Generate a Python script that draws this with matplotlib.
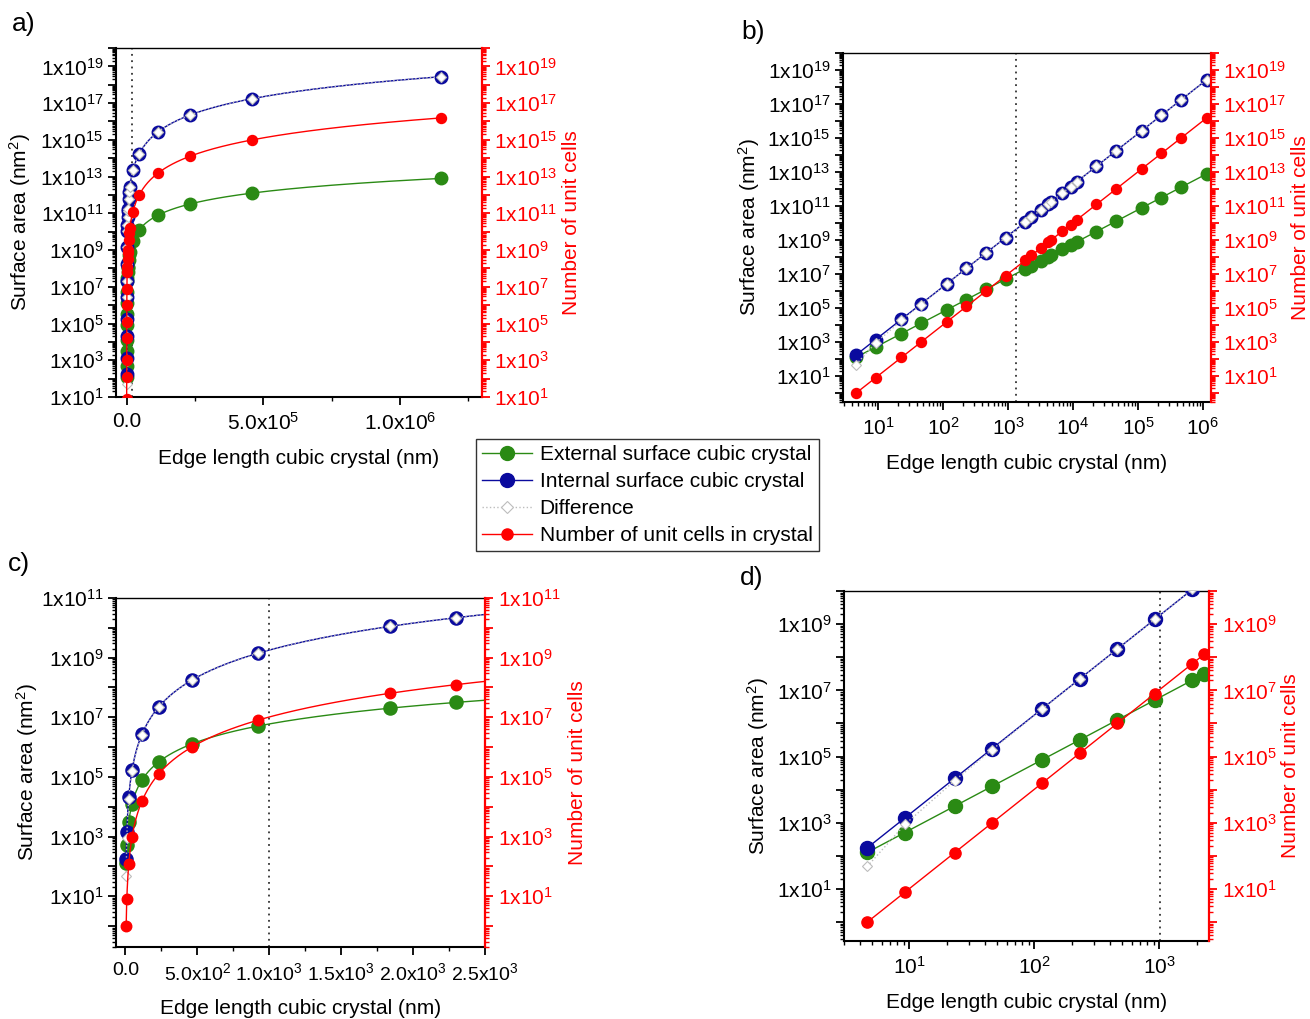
import numpy as np
import matplotlib
matplotlib.use("Agg")
import matplotlib.pyplot as plt
from matplotlib.ticker import LogLocator, FuncFormatter, FixedLocator, NullFormatter
from matplotlib.lines import Line2D

plt.rcParams['font.family'] = ['Liberation Sans', 'DejaVu Sans']
plt.rcParams['mathtext.default'] = 'regular'
plt.rcParams['mathtext.fontset'] = 'custom'
plt.rcParams['mathtext.rm'] = 'Liberation Sans'

# ---------------- data ----------------
edge_nm = [4.6, 9.2, 23, 46, 115, 230, 460, 920, 1840, 2300, 3220, 4140, 4600,
           6900, 9200, 11500, 23000, 46000, 115000, 230000, 460000, 1150000]
external_nm2 = [1.27e2, 5.08e2, 3.17e3, 1.27e4, 7.94e4, 3.17e5, 1.27e6, 5.08e6,
                2.03e7, 3.17e7, 6.22e7, 1.03e8, 1.27e8, 2.86e8, 5.08e8, 7.94e8,
                3.17e9, 1.27e10, 7.94e10, 3.17e11, 1.27e12, 7.94e12]
internal_nm2 = [1.75e2, 1.40e3, 2.19e4, 1.75e5, 2.73e6, 2.19e7, 1.75e8, 1.40e9,
                1.12e10, 2.19e10, 6.00e10, 1.28e11, 1.75e11, 5.91e11, 1.40e12,
                2.73e12, 2.19e13, 1.75e14, 2.73e15, 2.19e16, 1.75e17, 2.73e18]
difference_nm2 = [4.8e1, 8.9e2, 1.87e4, 1.62e5, 2.65e6, 2.16e7, 1.74e8, 1.39e9,
                  1.12e10, 2.19e10, 6.0e10, 1.28e11, 1.75e11, 5.91e11, 1.40e12,
                  2.73e12, 2.19e13, 1.75e14, 2.73e15, 2.19e16, 1.75e17, 2.73e18]
unit_cells = [1, 8, 125, 1e3, 1.5625e4, 1.25e5, 1e6, 8e6, 6.4e7, 1.25e8, 3.43e8,
              7.29e8, 1e9, 3.375e9, 8e9, 1.5625e10, 1.25e11, 1e12, 1.5625e13,
              1.25e14, 1e15, 1.5625e16]

legend_labels = ["External surface cubic crystal", "Internal surface cubic crystal",
                 "Difference", "Number of unit cells in crystal"]
panel_labels = ["a)", "b)", "c)", "d)"]
marker_lines = [2.1e4, 1.35e3, 1.0e3, 1.02e3]

GREEN = '#2A8A14'
BLUE = '#0A0A9E'
RED = '#FF0000'
GRAYD = '#BDBDBD'

W, H = 1310, 1019
fig = plt.figure(figsize=(W / 100, H / 100), dpi=100)


def rect(l, r, t, b):
    return [l / W, 1 - b / H, (r - l) / W, (b - t) / H]


def smooth(x, y, n=30):
    # geometric path between consecutive points (follows power law in log-y)
    xs, ys = [], []
    x = np.asarray(x, float); y = np.asarray(y, float)
    for i in range(len(x) - 1):
        t = np.linspace(0, 1, n, endpoint=False)
        xs.append(x[i] * (x[i + 1] / x[i]) ** t)
        ys.append(y[i] * (y[i + 1] / y[i]) ** t)
    xs.append([x[-1]]); ys.append([y[-1]])
    return np.concatenate(xs), np.concatenate(ys)


def ylab(v, pos):
    e = int(round(np.log10(v)))
    if e % 2 == 1:
        return r'1x10$^{%d}$' % e
    return ''


def xlog_lab(v, pos):
    e = int(round(np.log10(v)))
    return r'10$^{%d}$' % e


def style_log_y(ax, color='black'):
    ax.set_yscale('log')
    ax.yaxis.set_major_locator(LogLocator(base=10, numticks=100))
    ax.yaxis.set_minor_locator(LogLocator(base=10, subs=np.arange(2, 10), numticks=100))
    ax.yaxis.set_major_formatter(FuncFormatter(ylab))
    ax.yaxis.set_minor_formatter(NullFormatter())
    ax.tick_params(axis='y', which='major', length=6, width=1.3, colors=color,
                   labelsize=15, direction='out', pad=3)
    ax.tick_params(axis='y', which='minor', length=3, width=1.0, colors=color,
                   direction='out')


def draw_panel(pos, logx, xlim, ylim, vline, lab_x, ms_scale=1.0, xfmt=None, xtick_size=15):
    ax = fig.add_axes(pos)
    ax2 = ax.twinx()
    for a in (ax, ax2):
        if logx:
            a.set_xscale('log')
    ms_g, ms_b, ms_r, ms_d = 9 * ms_scale, 9 * ms_scale, 7.2 * ms_scale, 4.7 * ms_scale

    if logx:
        gx, gy = edge_nm, external_nm2
        bx, by = edge_nm, internal_nm2
        dx, dy = edge_nm, difference_nm2
        rx, ry = edge_nm, unit_cells
    else:
        gx, gy = smooth(edge_nm, external_nm2)
        bx, by = smooth(edge_nm, internal_nm2)
        dx, dy = smooth(edge_nm, difference_nm2)
        rx, ry = smooth(edge_nm, unit_cells)

    ax.plot(gx, gy, '-', color=GREEN, lw=1.0, zorder=2)
    ax.plot(edge_nm, external_nm2, 'o', color=GREEN, ms=ms_g, mec=GREEN, zorder=3)
    ax.plot(bx, by, '-', color=BLUE, lw=1.0, zorder=4)
    ax.plot(edge_nm, internal_nm2, 'o', color=BLUE, ms=ms_b, mec=BLUE, zorder=5)
    ax.plot(dx, dy, ':', color=GRAYD, lw=1.0, zorder=6)
    ax.plot(edge_nm, difference_nm2, 'D', mfc='white', mec=GRAYD, mew=0.8, ms=ms_d, zorder=7)
    ax2.plot(rx, ry, '-', color=RED, lw=1.0, zorder=2)
    ax2.plot(edge_nm, unit_cells, 'o', color=RED, ms=ms_r, mec=RED, zorder=3)

    ax.axvline(vline, color='#333333', ls=(0, (1, 2.5)), lw=1.3, zorder=1)

    for a in (ax, ax2):
        a.set_xlim(*xlim)
        a.set_ylim(*ylim)
    style_log_y(ax, 'black')
    style_log_y(ax2, RED)

    ax.spines['right'].set_visible(False)
    ax2.spines['right'].set_color(RED)
    ax2.spines['left'].set_visible(False)
    ax2.spines['top'].set_visible(False)
    ax2.spines['bottom'].set_visible(False)
    for s in ('left', 'bottom'):
        ax.spines[s].set_linewidth(1.5)
        ax.spines[s].set_color('black')
    ax.spines['top'].set_linewidth(1.0)
    ax2.spines['right'].set_linewidth(1.6)
    ax2.tick_params(axis='y', labelcolor=RED)

    if logx:
        ax.xaxis.set_major_locator(LogLocator(base=10, numticks=100))
        ax.xaxis.set_minor_locator(LogLocator(base=10, subs=np.arange(2, 10), numticks=100))
        ax.xaxis.set_major_formatter(FuncFormatter(xlog_lab))
        ax.xaxis.set_minor_formatter(NullFormatter())
    else:
        ax.xaxis.set_major_formatter(FuncFormatter(xfmt))
    ax.tick_params(axis='x', which='major', length=6, width=1.3, labelsize=xtick_size,
                   direction='out', pad=5)
    ax.tick_params(axis='x', which='minor', length=3, width=1.0, direction='out')

    ax.set_xlabel('Edge length cubic crystal (nm)', fontsize=15, labelpad=11)
    ax.set_ylabel('Surface area (nm$^{2}$)', fontsize=15)
    ax2.set_ylabel('Number of unit cells', fontsize=15, color=RED)
    ax.yaxis.set_label_coords(lab_x[0], 0.5)
    ax2.yaxis.set_label_coords(lab_x[1], 0.5)
    ax.set_zorder(ax2.get_zorder() - 1)
    ax2.patch.set_visible(False)
    return ax, ax2


def fmt_lin(v, pos):
    if abs(v) < 1e-9:
        return '0.0'
    e = int(np.floor(np.log10(abs(v))))
    m = v / 10 ** e
    return r'%.1fx10$^{%d}$' % (m, e)


# panel a
ax_a, _ = draw_panel(rect(116, 482, 48, 397), False, (-3.9e4, 1.3e6), (1e1, 1e20),
                     marker_lines[0], (-0.227, 1.219), 1.0, fmt_lin)
ax_a.xaxis.set_major_locator(FixedLocator([0, 5e5, 1e6]))
ax_a.xaxis.set_minor_locator(FixedLocator([2.5e5, 7.5e5, 1.25e6]))

# panel b
draw_panel(rect(843, 1211, 53, 402), True, (2.9, 1.33e6), (0.3, 1e20),
           marker_lines[1], (-0.220, 1.217), 1.0)

# panel c
ax_c, _ = draw_panel(rect(116, 485, 598, 947), False, (-66, 2500), (0.2, 1e11),
                     marker_lines[2], (-0.207, 1.224), 1.05, fmt_lin, xtick_size=14)
ax_c.xaxis.set_major_locator(FixedLocator([0, 500, 1000, 1500, 2000, 2500]))
ax_c.xaxis.set_minor_locator(FixedLocator([250, 750, 1250, 1750, 2250]))

# panel d
draw_panel(rect(844, 1209, 591, 941), True, (3.0, 2500), (0.27, 1e10),
           marker_lines[3], (-0.201, 1.197), 1.12)

# panel letters
for (px, py), lab in zip([(12, 12), (741, 20), (8, 552), (740, 566)], panel_labels):
    fig.text(px / W, 1 - py / H, lab, fontsize=19, ha='left', va='top')

# legend
handles = [
    Line2D([], [], color=GREEN, lw=1.0, marker='o', ms=10, mec=GREEN),
    Line2D([], [], color=BLUE, lw=1.0, marker='o', ms=10, mec=BLUE),
    Line2D([], [], color=GRAYD, lw=1.0, ls=':', marker='D', ms=6, mfc='white', mec=GRAYD, mew=0.8),
    Line2D([], [], color=RED, lw=1.0, marker='o', ms=8, mec=RED),
]
leg = fig.legend(handles, legend_labels, loc='upper left',
                 bbox_to_anchor=(476 / W, 1 - 439 / H), fontsize=15,
                 frameon=True, fancybox=False, edgecolor='black',
                 handlelength=2.4, handletextpad=0.35, labelspacing=0.38,
                 borderpad=0.3, borderaxespad=0.0)
leg.get_frame().set_linewidth(1.0)

fig.savefig('out.png', dpi=100)
